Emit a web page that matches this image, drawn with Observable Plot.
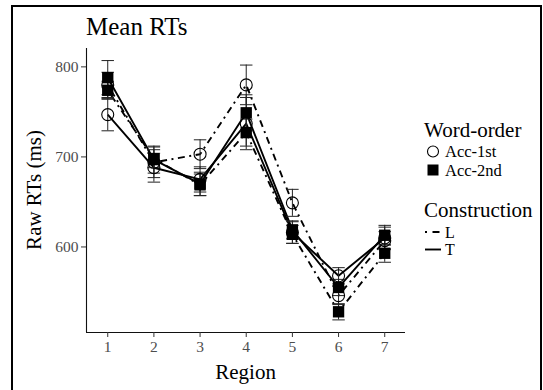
<!DOCTYPE html>
<html>
<head>
<meta charset="utf-8">
<script src="https://cdn.jsdelivr.net/npm/d3@7"></script>
<script src="https://cdn.jsdelivr.net/npm/@observablehq/plot@0.6"></script>
<style>
  html, body { margin: 0; padding: 0; background: #fff; }
  #chart svg { display: block; }
  #chart svg, #chart svg text { font-family: "Liberation Serif", "Times New Roman", serif !important; }
</style>
</head>
<body>
<div id="chart"></div>
<script>
// Mean reading times by region, split by word order and construction
const regions = [1, 2, 3, 4, 5, 6, 7];

// means (ms)
const acc1stL = [780, 694, 703, 780, 649, 546, 607];
const acc1stT = [747, 688, 675, 737, 616, 568, 610];
const acc2ndL = [774, 698, 669, 727, 614, 528, 593];
const acc2ndT = [788, 697, 670, 749, 619, 555, 613];

// standard errors (ms)
const se1stL = [14, 17, 16, 22, 15, 10, 10];
const se1stT = [18, 16, 14, 29, 12, 9, 12];
const se2ndL = [10, 10, 12, 15, 10, 9, 10];
const se2ndT = [19, 15, 13, 20, 10, 9, 11];

const wordOrders = ["Acc-1st", "Acc-2nd"];
const constructions = ["L", "T"];
const yTicks = [600, 700, 800];

const seriesList = [
  { order: "Acc-1st", cons: "L", means: acc1stL, ses: se1stL },
  { order: "Acc-1st", cons: "T", means: acc1stT, ses: se1stT },
  { order: "Acc-2nd", cons: "L", means: acc2ndL, ses: se2ndL },
  { order: "Acc-2nd", cons: "T", means: acc2ndT, ses: se2ndT }
];

const rows = seriesList.flatMap(s =>
  regions.map((r, i) => ({ order: s.order, cons: s.cons, region: r, rt: s.means[i], se: s.ses[i] }))
);

const W = 543, H = 390;
const xDomain = [0.54, 7.45];
const yDomain = [505, 820.4];
const capHalf = 0.135;
const serif = "Liberation Serif, Times New Roman, serif";
const dotDash = "2,4.5,7,4.5";

const lo = d => d.rt - d.se;
const hi = d => d.rt + d.se;

const chart = Plot.plot({
  width: W,
  height: H,
  marginLeft: 86,
  marginRight: 138,
  marginTop: 48,
  marginBottom: 58,
  style: { background: "#fff", overflow: "visible" },
  x: { domain: xDomain },
  y: { domain: yDomain },
  marks: [
    // axis lines (left and bottom only)
    Plot.ruleX([xDomain[0]], { stroke: "#111", strokeWidth: 1.1 }),
    Plot.ruleY([yDomain[0]], { stroke: "#111", strokeWidth: 1.1 }),
    Plot.axisX({ ticks: regions, tickFormat: d => String(d), tickSize: 5, tickPadding: 3,
                 fontSize: 15.5, fill: "#4d4d4d", stroke: "#333", label: null }),
    Plot.axisY({ ticks: yTicks, tickFormat: d => String(d), tickSize: 5, tickPadding: 3,
                 fontSize: 15.5, fill: "#4d4d4d", stroke: "#333", label: null }),
    // lines per construction
    Plot.line(rows.filter(d => d.cons === "L"), {
      x: "region", y: "rt", z: "order", stroke: "#000", strokeWidth: 1.9,
      strokeDasharray: dotDash, strokeLinecap: "butt", strokeLinejoin: "round"
    }),
    Plot.line(rows.filter(d => d.cons === "T"), {
      x: "region", y: "rt", z: "order", stroke: "#000", strokeWidth: 1.9,
      strokeLinecap: "butt", strokeLinejoin: "round"
    }),
    // error bars
    Plot.ruleX(rows, { x: "region", y1: lo, y2: hi, stroke: "#222", strokeWidth: 1 }),
    Plot.link(rows, { x1: d => d.region - capHalf, x2: d => d.region + capHalf, y1: lo, y2: lo,
                      stroke: "#222", strokeWidth: 1 }),
    Plot.link(rows, { x1: d => d.region - capHalf, x2: d => d.region + capHalf, y1: hi, y2: hi,
                      stroke: "#222", strokeWidth: 1 }),
    // points
    Plot.dot(rows.filter(d => d.order === "Acc-1st"), {
      x: "region", y: "rt", symbol: "circle", r: 6, fill: "none", stroke: "#000", strokeWidth: 1.1
    }),
    Plot.dot(rows.filter(d => d.order === "Acc-2nd"), {
      x: "region", y: "rt", symbol: "square", r: 6.4, fill: "#000", stroke: "none"
    })
  ]
});

document.getElementById("chart").appendChild(chart);

const svg = d3.select(chart);

// outer frame
svg.append("rect")
  .attr("x", 12).attr("y", 6).attr("width", 529).attr("height", 400)
  .attr("fill", "none").attr("stroke", "#000").attr("stroke-width", 2);

// title and axis titles
svg.append("text").text("Mean RTs")
  .attr("x", 86).attr("y", 35).attr("text-anchor", "start")
  .attr("font-family", serif).attr("font-size", 25).attr("fill", "#000");

svg.append("text").text("Region")
  .attr("x", 245.6).attr("y", 379).attr("text-anchor", "middle")
  .attr("font-family", serif).attr("font-size", 21).attr("fill", "#000");

svg.append("text").text("Raw RTs (ms)")
  .attr("transform", "translate(40.5,190) rotate(-90)").attr("text-anchor", "middle")
  .attr("font-family", serif).attr("font-size", 21).attr("fill", "#000");

// legends
const lg = svg.append("g").attr("font-family", serif).attr("fill", "#000")
  .attr("text-anchor", "start");

lg.append("text").text("Word-order").attr("x", 424).attr("y", 137).attr("font-size", 21);
const orderSymbols = { "Acc-1st": "circle", "Acc-2nd": "square" };
wordOrders.forEach((o, i) => {
  const cy = 151.5 + i * 18.5;
  if (orderSymbols[o] === "circle") {
    lg.append("circle").attr("cx", 433).attr("cy", cy).attr("r", 5.5)
      .attr("fill", "none").attr("stroke", "#000").attr("stroke-width", 1.1);
  } else {
    lg.append("rect").attr("x", 427.5).attr("y", cy - 5.5).attr("width", 11).attr("height", 11)
      .attr("fill", "#000");
  }
  lg.append("text").text(o).attr("x", 445).attr("y", cy + 5.5).attr("font-size", 16.5);
});

lg.append("text").text("Construction").attr("x", 424).attr("y", 217).attr("font-size", 21);
constructions.forEach((c, i) => {
  const cy = 232 + i * 17.5;
  const ln = lg.append("line").attr("x1", 425).attr("x2", 441).attr("y1", cy).attr("y2", cy)
    .attr("stroke", "#000").attr("stroke-width", 1.9);
  if (c === "L") ln.attr("stroke-dasharray", "2,5.5,7,4.5");
  lg.append("text").text(c).attr("x", 445).attr("y", cy + 5.5).attr("font-size", 16);
});
</script>
</body>
</html>
